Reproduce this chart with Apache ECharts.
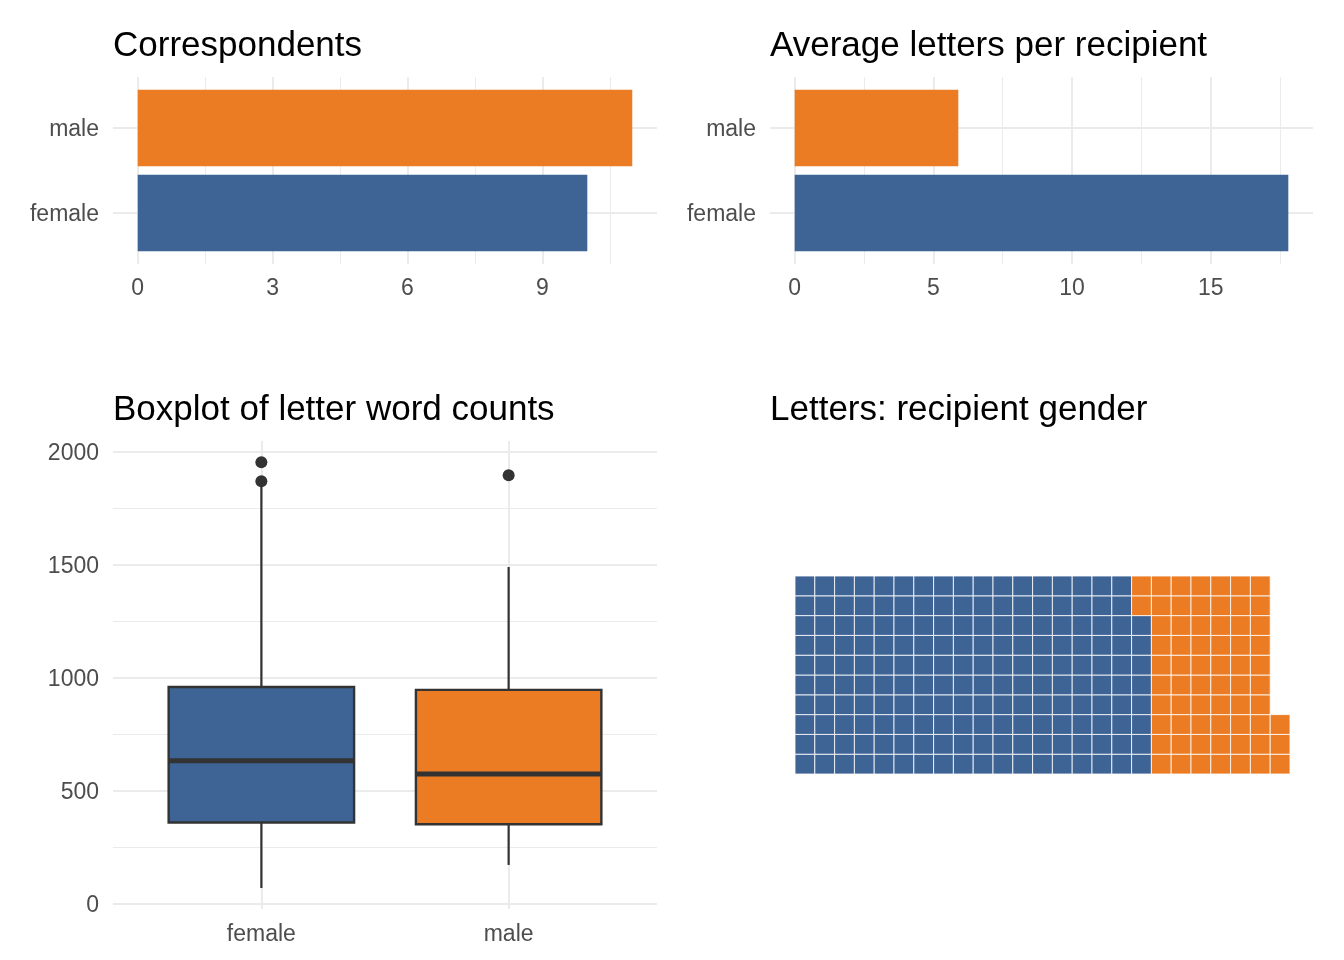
<!DOCTYPE html>
<html>
<head>
<meta charset="utf-8">
<title>Letters by gender</title>
<script src="https://cdn.jsdelivr.net/npm/echarts@6.0.0/dist/echarts.min.js"></script>
<style>
  html, body { margin: 0; padding: 0; background: #fff; }
  #chart { width: 1344px; height: 960px; }
</style>
</head>
<body>
<div id="chart"></div>
<script>
var genders = ['female', 'male'];
var correspondents = [10, 11];
var avgLetters = [17.8, 5.9];
// whisker low, Q1, median, Q3, whisker high
var wordBoxes = [
    [68, 358, 631, 958, 1852],
    [170, 350, 573, 945, 1489]
];
var wordOutliers = [[1, 1953], [1, 1869], [2, 1895]];
var lettersByGender = [178, 65];
var waffleRows = 10;
var waffleCols = 25;

var fill = ['#3E6496', '#EC7C23'];
var ink = '#333333';
var gridColor = '#EBEBEB';
var font = '"Liberation Sans", Arial, Helvetica, sans-serif';

var myChart = echarts.init(document.getElementById('chart'));

var catLabel = function (v) {
    var i = Math.round(v);
    if (Math.abs(v - i) > 1e-6) {
        return '';
    }
    return genders[i - 1] || '';
};

var plainNumber = function (v) {
    return String(v);
};

// y labels sit a touch lower in the original
var nudged = function (fmt) {
    return function (v) {
        var s = fmt(v);
        return s ? '{t|' + s + '}' : '';
    };
};

// value axis; min/max interval pinned so ticks stay on multiples of step
var axis = function (gridIndex, min, max, step, major, label) {
    return {
        type: 'value',
        gridIndex: gridIndex,
        min: min,
        max: max,
        minInterval: step,
        maxInterval: step,
        axisLine: {show: false},
        axisTick: {show: false},
        axisLabel: label ? {
            show: true,
            color: '#4D4D4D',
            fontSize: 23,
            fontFamily: font,
            margin: label.margin,
            showMinLabel: false,
            showMaxLabel: false,
            formatter: label.formatter || plainNumber,
            rich: {
                t: {color: '#4D4D4D', fontSize: 23, fontFamily: font, padding: [4, 0, 0, 0]}
            }
        } : {show: false},
        splitLine: {
            show: true,
            showMinLine: false,
            showMaxLine: false,
            lineStyle: {color: gridColor, width: major ? 2 : 1}
        }
    };
};

var hiddenAxis = function (gridIndex, min, max) {
    return {
        type: 'value', gridIndex: gridIndex, min: min, max: max, show: false,
        splitLine: {show: false}
    };
};

var waffleCells = [];
var n = 0;
lettersByGender.forEach(function (count, g) {
    for (var k = 0; k < count; k++) {
        waffleCells.push([Math.floor(n / waffleRows), n % waffleRows, g]);
        n++;
    }
});

var renderHBar = function (params, api) {
    var cat = api.value(1);
    var p0 = api.coord([0, cat]);
    var p1 = api.coord([api.value(0), cat]);
    var h = api.size([0, 0.9])[1];
    return {
        type: 'rect',
        shape: {x: p0[0], y: p0[1] - h / 2, width: p1[0] - p0[0], height: h},
        style: {fill: fill[cat - 1]}
    };
};

var renderBox = function (params, api) {
    var x = api.value(0);
    var lo = api.coord([x, api.value(1)]);
    var q1 = api.coord([x, api.value(2)]);
    var med = api.coord([x, api.value(3)]);
    var q3 = api.coord([x, api.value(4)]);
    var hi = api.coord([x, api.value(5)]);
    var left = api.coord([x - 0.375, 0])[0];
    var right = api.coord([x + 0.375, 0])[0];
    return {
        type: 'group',
        children: [
            {type: 'line', shape: {x1: lo[0], y1: lo[1], x2: q1[0], y2: q1[1]}, style: {stroke: ink, lineWidth: 2.2}},
            {type: 'line', shape: {x1: q3[0], y1: q3[1], x2: hi[0], y2: hi[1]}, style: {stroke: ink, lineWidth: 2.2}},
            {type: 'rect', shape: {x: left, y: q3[1], width: right - left, height: q1[1] - q3[1]},
                style: {fill: fill[x - 1], stroke: ink, lineWidth: 2.4}},
            {type: 'line', shape: {x1: left, y1: med[1], x2: right, y2: med[1]}, style: {stroke: ink, lineWidth: 5}}
        ]
    };
};

var renderCell = function (params, api) {
    var p = api.coord([api.value(0), api.value(1) + 1]);
    var s = api.size([1, 1]);
    return {
        type: 'rect',
        shape: {x: p[0], y: p[1], width: s[0], height: s[1]},
        style: {fill: fill[api.value(2)], stroke: '#ffffff', lineWidth: 0.8}
    };
};

var titleText = function (text, left, top) {
    return {
        text: text, left: left, top: top, padding: 0,
        textStyle: {fontSize: 35, fontWeight: 'normal', color: '#000000', fontFamily: font}
    };
};

var option = {
    animation: false,
    backgroundColor: '#ffffff',
    title: [
        titleText('Correspondents', 113, 29),
        titleText('Average letters per recipient', 770, 29),
        titleText('Boxplot of letter word counts', 113, 393),
        titleText('Letters: recipient gender', 770, 393)
    ],
    grid: [
        {left: 113, top: 77, width: 544, height: 187, outerBoundsMode: 'none'},
        {left: 770, top: 77, width: 543, height: 187, outerBoundsMode: 'none'},
        {left: 113, top: 441, width: 544, height: 468, outerBoundsMode: 'none'},
        {left: 795, top: 576, width: 495, height: 198, outerBoundsMode: 'none'}
    ],
    xAxis: [
        axis(0, -0.55, 11.55, 3, true, {margin: 13}),
        axis(0, -0.55, 11.55, 1.5, false, null),
        axis(1, -0.89, 18.69, 5, true, {margin: 13}),
        axis(1, -0.89, 18.69, 2.5, false, null),
        axis(2, 0.4, 2.6, 1, true, {margin: 14, formatter: catLabel}),
        hiddenAxis(3, 0, waffleCols)
    ],
    yAxis: [
        axis(0, 0.4, 2.6, 1, true, {margin: 14, formatter: nudged(catLabel)}),
        axis(1, 0.4, 2.6, 1, true, {margin: 14, formatter: nudged(catLabel)}),
        axis(2, -25, 2047, 500, true, {margin: 14, formatter: nudged(plainNumber)}),
        axis(2, -25, 2047, 250, false, null),
        hiddenAxis(3, 0, waffleRows)
    ],
    series: [
        {
            name: 'Correspondents',
            type: 'custom',
            xAxisIndex: 0,
            yAxisIndex: 0,
            renderItem: renderHBar,
            data: genders.map(function (g, i) {
                return [correspondents[i], i + 1];
            })
        },
        {
            name: 'Average letters per recipient',
            type: 'custom',
            xAxisIndex: 2,
            yAxisIndex: 1,
            renderItem: renderHBar,
            data: genders.map(function (g, i) {
                return [avgLetters[i], i + 1];
            })
        },
        {
            name: 'Word counts',
            type: 'custom',
            xAxisIndex: 4,
            yAxisIndex: 2,
            renderItem: renderBox,
            data: wordBoxes.map(function (b, i) {
                return [i + 1].concat(b);
            })
        },
        {
            name: 'Outliers',
            type: 'scatter',
            xAxisIndex: 4,
            yAxisIndex: 2,
            symbolSize: 12,
            itemStyle: {color: ink, opacity: 1},
            data: wordOutliers
        },
        {
            name: 'Letters',
            type: 'custom',
            xAxisIndex: 5,
            yAxisIndex: 4,
            renderItem: renderCell,
            data: waffleCells
        }
    ]
};

myChart.setOption(option);
</script>
</body>
</html>
